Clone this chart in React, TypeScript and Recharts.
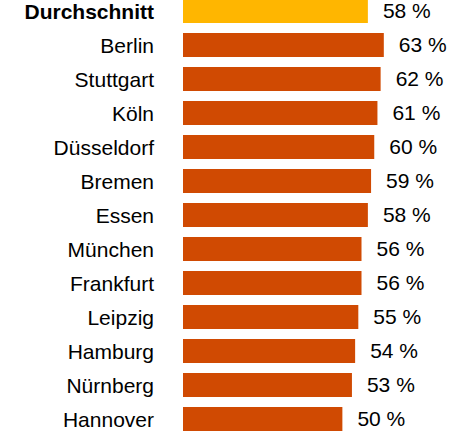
import React from 'react'
import { BarChart, Bar, XAxis, YAxis, Cell, LabelList } from 'recharts'

const cities = ['Durchschnitt', 'Berlin', 'Stuttgart', 'Köln', 'Düsseldorf', 'Bremen', 'Essen', 'München', 'Frankfurt', 'Leipzig', 'Hamburg', 'Nürnberg', 'Hannover']
const shares = [58, 63, 62, 61, 60, 59, 58, 56, 56, 55, 54, 53, 50]

const AVG_COLOR = '#FFB600'
const CITY_COLOR = '#D04A02'

const data = cities.map((city, i) => ({ city, share: shares[i] }))

const CityTick = (props: any) => {
    const { x, y, payload } = props
    const isAvg = payload.value === 'Durchschnitt'
    return (
        <text
            x={x}
            y={y}
            dy={8}
            textAnchor="end"
            fontSize={21}
            fontWeight={isAvg ? 700 : 400}
            fill="#000"
        >
            {payload.value}
        </text>
    )
}

export default function App() {
    return (
        <div style={{ position: 'fixed', top: 0, left: 0, width: 462, height: 435, overflow: 'hidden', background: '#fff', fontFamily: '"Liberation Sans", Arial, sans-serif' }}>
            <div style={{ position: 'absolute', top: -6, left: 0 }}>
                <BarChart
                    width={462}
                    height={442}
                    data={data}
                    layout="vertical"
                    margin={{ top: 0, right: 24, left: 0, bottom: 0 }}
                    style={{ overflow: 'visible' }}
                >
                    <XAxis type="number" domain={[0, 80]} hide />
                    <YAxis
                        type="category"
                        dataKey="city"
                        width={183}
                        tickLine={false}
                        axisLine={false}
                        tickSize={0}
                        tickMargin={29}
                        tick={<CityTick />}
                        interval={0}
                    />
                    <Bar dataKey="share" barSize={24} isAnimationActive={false}>
                        {data.map((d, i) => (
                            <Cell key={d.city} fill={i === 0 ? AVG_COLOR : CITY_COLOR} />
                        ))}
                        <LabelList
                            dataKey="share"
                            position="right"
                            offset={15}
                            formatter={(v: any) => `${v} %`}
                            fill="#000"
                            fontSize={21}
                        />
                    </Bar>
                </BarChart>
            </div>
        </div>
    )
}
